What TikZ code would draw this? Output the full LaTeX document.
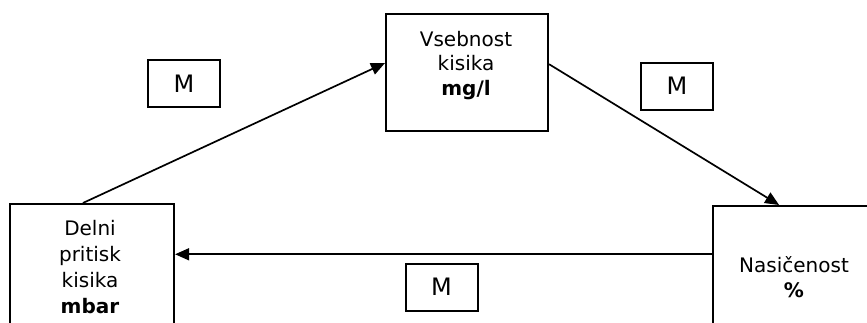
\documentclass[tikz,border=0pt]{standalone}
\usepackage{fontspec}
\setmainfont{DejaVu Sans}
\usetikzlibrary{arrows.meta,calc}
\begin{document}
\begin{tikzpicture}[x=1pt,y=-1pt,
  box/.style={draw, line width=2.1pt, inner sep=0pt, anchor=north west},
  mbox/.style={draw, line width=2pt, minimum width=72pt, minimum height=47pt, inner sep=0pt, font=\fontsize{24}{28}\selectfont},
  lbl/.style={align=center, inner sep=0pt, anchor=north},
  conn/.style={line width=1.7pt, -{Triangle[length=14pt,width=12pt]}}]
\useasboundingbox (0,0) rectangle (867,322);
\clip (0,0) rectangle (867,322);
% main boxes
\node[box, minimum width=162pt, minimum height=117pt] (vs) at (385,13) {};
\node[box, minimum width=164pt, minimum height=130pt] (lb) at (9,203) {};
\node[box, minimum width=170pt, minimum height=150pt] (rb) at (712,205) {};
% texts
\node[lbl, font=\fontsize{20}{24.5}\selectfont] (vstxt) at (466,31) {Vsebnost\\kisika\\\textbf{mg/l}};
\node[lbl, font=\fontsize{20}{26}\selectfont] (lbtxt) at (90,220) {Delni\\pritisk\\kisika\\\textbf{mbar}};
\node[lbl, font=\fontsize{20}{25}\selectfont] (rbtxt) at (794,256.5) {Nasičenost\\\textbf{\%}};
% M boxes
\node[mbox] (m1) at (184,83.5) {M};
\node[mbox] (m2) at (677,86) {M};
\node[mbox] (m3) at (441.5,287) {M};
% connectors
\draw[conn] ($(lb.north west)!0.445!(lb.north east)$) -- ($(vs.north west)!0.42!(vs.south west)$);
\draw[conn] ($(vs.north east)!0.43!(vs.south east)$) -- ($(rb.north west)!0.39!(rb.north east)$);
\coordinate (p3) at ($(rb.north west)!0.324!(rb.south west)$);
\draw[conn] (p3) -- (lb.east |- p3);
\end{tikzpicture}
\end{document}
